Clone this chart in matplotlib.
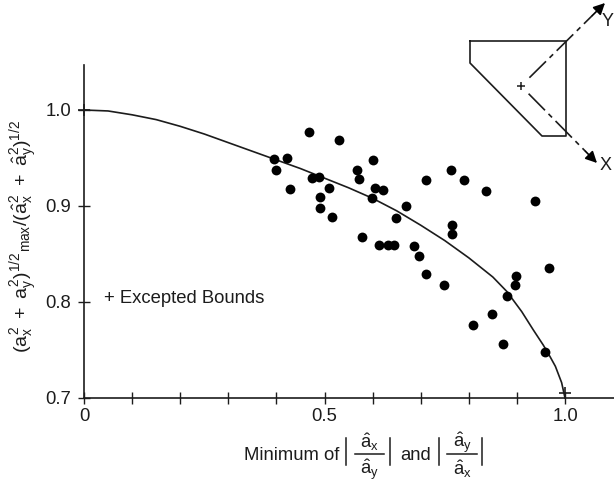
import matplotlib
matplotlib.use('Agg')
import matplotlib.pyplot as plt

plt.rcParams['font.family'] = ['Liberation Sans', 'DejaVu Sans']
plt.rcParams['mathtext.fontset'] = 'custom'
plt.rcParams['mathtext.rm'] = 'Liberation Sans'
plt.rcParams['mathtext.it'] = 'Liberation Sans'
plt.rcParams['mathtext.bf'] = 'Liberation Sans'

ink = '#1c1c1c'

# scatter points
pts_x = [.468, .530, .396, .423, .400, .429, .475, .488, .509, .491, .491, .516,
         .568, .572, .600, .605, .622, .598, .669, .648, .577, .613, .631, .644,
         .686, .696, .710, .748, .710, .762, .789, .836, .938, .766, .766, .898,
         .896, .879, .966, .849, .808, .872, .958]
pts_y = [.977, .969, .949, .950, .938, .918, .929, .930, .919, .909, .898, .889,
         .938, .928, .948, .919, .917, .908, .900, .888, .868, .859, .859, .859,
         .858, .848, .829, .818, .927, .937, .927, .916, .905, .880, .871, .827,
         .818, .806, .835, .788, .776, .756, .748]

# fitted curve
curve_x = [0, .05, .1, .15, .2, .25, .3, .35, .4, .45, .5, .55, .6, .65, .7, .75,
           .8, .85, .879, .91, .934, .955, .969, .98, .993, 1.0]
curve_y = [1.0, .999, .995, .990, .983, .975, .966, .957, .948, .939, .929, .919,
           .908, .895, .880, .864, .846, .826, .811, .790, .771, .755, .743, .733, .716, .70]

bound_x = [0, 1.0]
bound_y = [1.0, .705]

# inset section, in image pixels
shape_x = [470, 566, 566, 542, 470, 470]
shape_y = [41, 41, 136, 136, 63, 41]
centre = (521, 86)
y_tip = (605, 3)
x_tip = (597, 163)

fig = plt.figure(figsize=(6.14, 4.83), dpi=100)
ax = fig.add_axes([84/614, 85/483, 530/614, 333/483])
ax.set_xlim(0, 530/481)
ax.set_ylim(.7, .7 + 333/960)

ax.plot(curve_x, curve_y, color=ink, lw=1.2, zorder=2, solid_joinstyle='round')
ax.scatter(pts_x, pts_y, s=50, color='black', linewidths=0, zorder=3)
ax.scatter(bound_x, bound_y, marker='+', s=70, color=ink, linewidths=1.2, clip_on=False, zorder=4)

for s in ('top', 'right'):
    ax.spines[s].set_visible(False)
for s in ('left', 'bottom'):
    ax.spines[s].set_linewidth(1.2)
    ax.spines[s].set_color(ink)

ax.set_xticks([0, .5, 1.0])
ax.set_xticklabels(['0', '0.5', '1.0'])
ax.set_xticks([.1, .2, .3, .4, .6, .7, .8, .9], minor=True)
ax.set_yticks([.7, .8, .9, 1.0])
ax.set_yticklabels(['0.7', '0.8', '0.9', '1.0'])
ax.tick_params(axis='x', which='both', direction='inout', length=8, width=1, color=ink,
               labelsize=13.3, labelcolor=ink, pad=3)
ax.tick_params(axis='y', direction='inout', length=8, width=1, color=ink,
               labelsize=13.3, labelcolor=ink, pad=5)

ax.text(.042, .804, '+ Excepted Bounds', fontsize=13.3, color=ink, va='center')

ylab = r'$(a_x^2\,\,+\,\,a_y^2)^{1/2}{}_{max}/(\hat{a}_x^2\,\,+\,\,\hat{a}_y^2)^{1/2}$'
fig.text(24/614, 1 - 236/483, ylab, fontsize=14, color=ink, rotation=90, ha='center', va='center')

# overlay in image pixels for the section sketch and the x label
ov = fig.add_axes([0, 0, 1, 1])
ov.set_xlim(0, 614)
ov.set_ylim(483, 0)
ov.axis('off')
ov.patch.set_alpha(0)

ov.text(244, 460, 'Minimum of', fontsize=13.3, color=ink, va='baseline')
ov.text(400, 460, 'and', fontsize=13.3, color=ink, va='baseline')
for bx in (346, 390, 439, 482):
    ov.plot([bx, bx], [438, 465], color=ink, lw=1.1)
for x0, x1, top, bottom in ((355, 384, r'$\hat{a}_x$', r'$\hat{a}_y$'),
                            (447, 477, r'$\hat{a}_y$', r'$\hat{a}_x$')):
    ov.plot([x0, x1], [453.5, 453.5], color=ink, lw=1.1)
    ov.text((x0 + x1) / 2, 448, top, fontsize=13.3, color=ink, ha='center', va='baseline')
    ov.text((x0 + x1) / 2, 475, bottom, fontsize=13.3, color=ink, ha='center', va='baseline')

ov.plot(shape_x, shape_y, color=ink, lw=1.2)
ov.plot([centre[0]], [centre[1]], marker='+', ms=6, mew=1.1, color=ink)
for tip in (y_tip, x_tip):
    # start a little off the centre mark
    sx = centre[0] + (tip[0] - centre[0]) * .1
    sy = centre[1] + (tip[1] - centre[1]) * .1
    ex = centre[0] + (tip[0] - centre[0]) * .85
    ey = centre[1] + (tip[1] - centre[1]) * .85
    ov.plot([sx, ex], [sy, ey], color=ink, lw=1.2, dashes=(14, 3, 3, 3))
    ov.annotate('', xy=tip, xytext=(ex, ey),
                arrowprops=dict(arrowstyle='-|>', color='black', lw=1.2, mutation_scale=17,
                                shrinkA=0, shrinkB=0))
ov.text(602, 22, 'Y', fontsize=13, color=ink, va='center')
ov.text(600, 166, 'X', fontsize=13, color=ink, va='center')

fig.savefig('out.png', dpi=100)
